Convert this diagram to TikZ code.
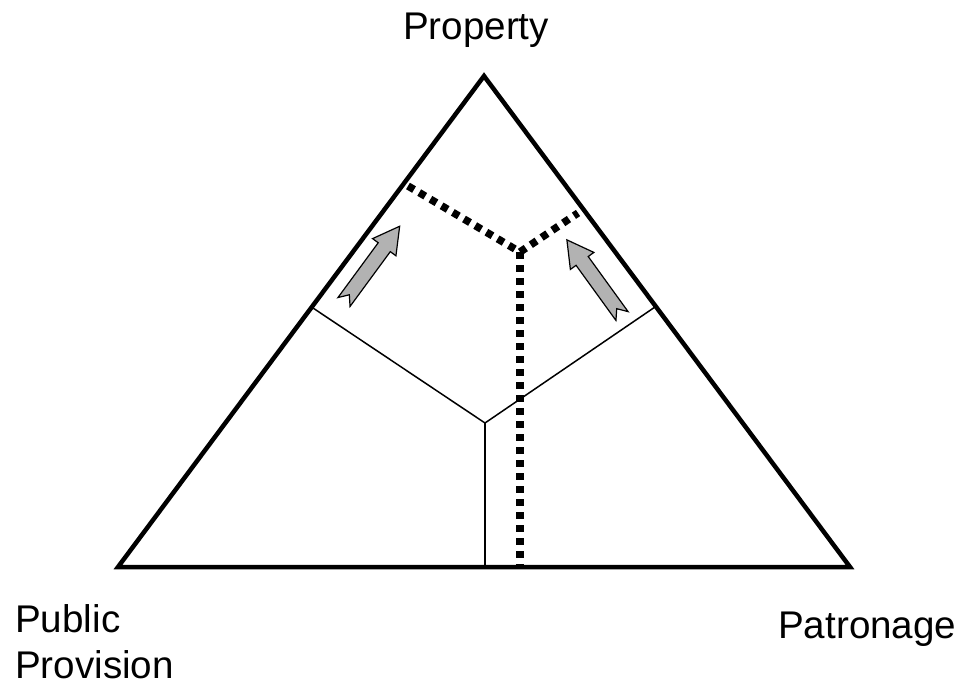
\documentclass[tikz,border=0pt]{standalone}
\usepackage{fontspec}
\setmainfont{Liberation Sans}
\begin{document}
\begin{tikzpicture}[x=1pt,y=-1pt,
  side/.style={line width=4.5pt, line join=miter},
  thin/.style={line width=1.5pt},
  dots/.style={line width=7.5pt, dash pattern=on 7pt off 6pt},
  label/.style={font=\fontsize{38.6}{46}\selectfont, inner sep=0pt},
  shiftarrow/.style={fill=black!30, draw=black, line width=1.2pt, line join=miter}]
\useasboundingbox (0,0) rectangle (966,688);
% vertices
\coordinate (A) at (484,76);
\coordinate (B) at (118,567);
\coordinate (C) at (850,567);
% inner solid split
\coordinate (O) at (485,423);
\coordinate (L) at (313,308);
\coordinate (R) at (655,307);
\coordinate (D) at (485,567);
% dotted split
\coordinate (P) at (520,252);
\coordinate (PL) at (408,186);
\coordinate (PR) at (578,213);
\coordinate (PD) at (520,565);
% triangle
\draw[side] (A) -- (B) -- (C) -- cycle;
% solid lines
\draw[thin] (O) -- (L);
\draw[thin] (O) -- (R);
\draw[thin] (O) -- (D);
% dotted lines
\draw[dots] (PL) -- (P) -- (PR);
\draw[dots] (P) -- (PD);
% arrows
\coordinate (a1) at (344,302);
\coordinate (a2) at (622,316);
\begin{scope}[shift={(a1)}, rotate=53.7]
  \path[shiftarrow] (0pt,7.5pt) -- (68pt,7.5pt) -- (68pt,14.5pt) -- (94pt,0pt) -- (68pt,-14.5pt) -- (68pt,-7.5pt) -- (0pt,-7.5pt) -- (9pt,0pt) -- cycle;
\end{scope}
\begin{scope}[shift={(a2)}, rotate=125.9]
  \path[shiftarrow] (0pt,7.5pt) -- (68pt,7.5pt) -- (68pt,14.5pt) -- (94pt,0pt) -- (68pt,-14.5pt) -- (68pt,-7.5pt) -- (0pt,-7.5pt) -- (9pt,0pt) -- cycle;
\end{scope}
% labels
\node[label, anchor=base] (prop) at (476,39) {Property};
\node[label, anchor=base west] (pub) at (15,632) {Public};
\node[label, anchor=base west] (prov) at (15,678) {Provision};
\node[label, anchor=base west] (pat) at (778,638) {Patronage};
\end{tikzpicture}
\end{document}
